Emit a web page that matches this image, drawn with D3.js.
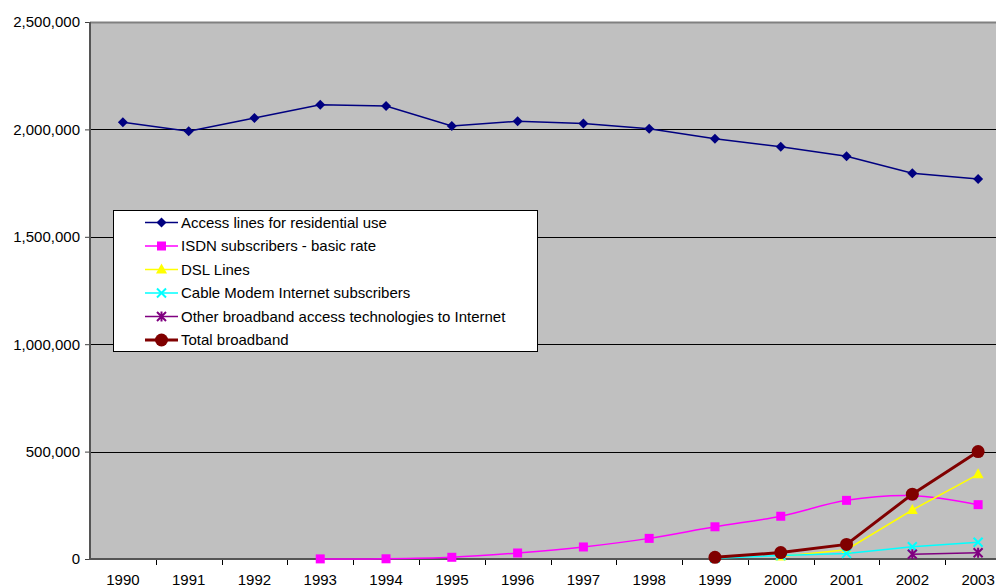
<!DOCTYPE html>
<html><head><meta charset="utf-8">
<script src="https://cdn.jsdelivr.net/npm/d3@7"></script>
<style>body{margin:0;background:#fff}svg{display:block;font-family:"Liberation Sans",Arial,sans-serif}</style>
</head><body><svg id="c" width="996" height="588"></svg>
<script>
const years = ["1990","1991","1992","1993","1994","1995","1996","1997","1998","1999","2000","2001","2002","2003"];
const accessLines = [2033000,1991000,2053000,2115000,2109000,2016000,2038000,2028000,2003000,1957000,1919000,1875000,1796000,1769000];
const isdn = [null,null,null,500,1000,8000,28000,56000,96000,150000,199000,273000,295000,253000];
const dsl = [null,null,null,null,null,null,null,null,null,null,12000,43000,228000,394000];
const cable = [null,null,null,null,null,null,null,null,null,4000,16000,26000,57000,78000];
const other = [null,null,null,null,null,null,null,null,null,null,null,null,22000,29000];
const total = [null,null,null,null,null,null,null,null,null,8000,30000,68000,302000,500000];
const yTicks = [0,500000,1000000,1500000,2000000,2500000];
const seriesNames = ["Access lines for residential use","ISDN subscribers - basic rate","DSL Lines","Cable Modem Internet subscribers","Other broadband access technologies to Internet","Total broadband"];

const series = [
  {name:seriesNames[0], values:accessLines, color:"#000080", marker:"diamond", width:1.5},
  {name:seriesNames[1], values:isdn, color:"#FF00FF", marker:"square", width:1.5, smooth:true},
  {name:seriesNames[2], values:dsl, color:"#FFFF00", marker:"triangle", width:1.5},
  {name:seriesNames[3], values:cable, color:"#00FFFF", marker:"x", width:1.5},
  {name:seriesNames[4], values:other, color:"#800080", marker:"star", width:1.5},
  {name:seriesNames[5], values:total, color:"#800000", marker:"circle", width:3}
];

const svg = d3.select("#c");
const L = 90, T = 22, B = 559, R = 1011;
const x = d3.scaleBand().domain(years).range([L, R]);
const y = d3.scaleLinear().domain([0, 2500000]).range([B, T]);
const cx = d => x(d) + x.bandwidth()/2;

svg.append("rect").attr("x", L).attr("y", T).attr("width", R - L).attr("height", B - T).attr("fill", "#C0C0C0");
svg.append("g").selectAll("line").data(yTicks.filter(v => v > 0 && v < 2500000)).join("line")
  .attr("x1", L).attr("x2", R).attr("y1", d => Math.round(y(d)) + 0.5).attr("y2", d => Math.round(y(d)) + 0.5)
  .attr("stroke", "#000").attr("stroke-width", 1);
svg.append("line").attr("x1", L).attr("x2", R).attr("y1", T + 0.5).attr("y2", T + 0.5).attr("stroke", "#808080").attr("stroke-width", 2);

const yAxis = d3.axisLeft(y).tickValues(yTicks).tickSize(5).tickFormat(d3.format(","));
const gy = svg.append("g").attr("transform", `translate(${L},0)`).call(yAxis);
gy.select(".domain").remove();
gy.selectAll(".tick line").attr("stroke", "#404040");
gy.selectAll(".tick text").attr("font-size", 15).attr("fill", "#000").attr("x", -10).attr("font-family", "Liberation Sans, Arial, sans-serif");
svg.append("line").attr("x1", L).attr("x2", L).attr("y1", T).attr("y2", B + 1).attr("stroke", "#555").attr("stroke-width", 2);

const gx = svg.append("g").attr("transform", `translate(0,${B})`).call(d3.axisBottom(x).tickSize(0));
gx.select(".domain").remove();
gx.selectAll(".tick text").attr("font-size", 15).attr("fill", "#000").attr("dy", "1.5em").attr("font-family", "Liberation Sans, Arial, sans-serif");
svg.append("g").selectAll("line").data(years.slice(1)).join("line")
  .attr("x1", d => Math.round(x(d)) + 0.5).attr("x2", d => Math.round(x(d)) + 0.5)
  .attr("y1", B).attr("y2", B + 6).attr("stroke", "#000");
svg.append("line").attr("x1", L - 1).attr("x2", R).attr("y1", B).attr("y2", B).attr("stroke", "#555").attr("stroke-width", 2);

function marker(g, type, color, px, py) {
  if (type === "diamond") {
    g.append("path").attr("d", `M${px},${py-5}L${px+5},${py}L${px},${py+5}L${px-5},${py}Z`).attr("fill", color);
  } else if (type === "square") {
    g.append("rect").attr("x", px-4.5).attr("y", py-4.5).attr("width", 9).attr("height", 9).attr("fill", color);
  } else if (type === "triangle") {
    g.append("path").attr("d", `M${px},${py-6}L${px+5.5},${py+4}L${px-5.5},${py+4}Z`).attr("fill", color);
  } else if (type === "x") {
    g.append("path").attr("d", `M${px-4.5},${py-4.5}L${px+4.5},${py+4.5}M${px+4.5},${py-4.5}L${px-4.5},${py+4.5}`).attr("stroke", color).attr("stroke-width", 2);
  } else if (type === "star") {
    g.append("path").attr("d", `M${px-4.5},${py-4.5}L${px+4.5},${py+4.5}M${px+4.5},${py-4.5}L${px-4.5},${py+4.5}M${px},${py-5}L${px},${py+5}`).attr("stroke", color).attr("stroke-width", 2);
  } else if (type === "circle") {
    g.append("circle").attr("cx", px).attr("cy", py).attr("r", 6.5).attr("fill", color);
  }
}

series.forEach(s => {
  const pts = years.map((yr, i) => ({yr, v: s.values[i]})).filter(p => p.v != null);
  const line = d3.line().x(p => cx(p.yr)).y(p => y(p.v)).curve(s.smooth ? d3.curveCatmullRom.alpha(0.5) : d3.curveLinear);
  const g = svg.append("g");
  g.append("path").attr("d", line(pts)).attr("fill", "none").attr("stroke", s.color).attr("stroke-width", s.width);
  pts.forEach(p => marker(g, s.marker, s.color, cx(p.yr), y(p.v)));
});

const lg = svg.append("g");
lg.append("rect").attr("x", 113.5).attr("y", 210.5).attr("width", 424).attr("height", 141).attr("fill", "#fff").attr("stroke", "#000").attr("stroke-width", 1);
series.forEach((s, i) => {
  const ly = 222.5 + i * 23.5;
  lg.append("line").attr("x1", 145).attr("x2", 178).attr("y1", ly).attr("y2", ly).attr("stroke", s.color).attr("stroke-width", s.width);
  marker(lg, s.marker, s.color, 161.5, ly);
  lg.append("text").attr("x", 181).attr("y", ly).attr("dy", "0.36em").attr("font-size", 15).text(s.name);
});
</script></body></html>
